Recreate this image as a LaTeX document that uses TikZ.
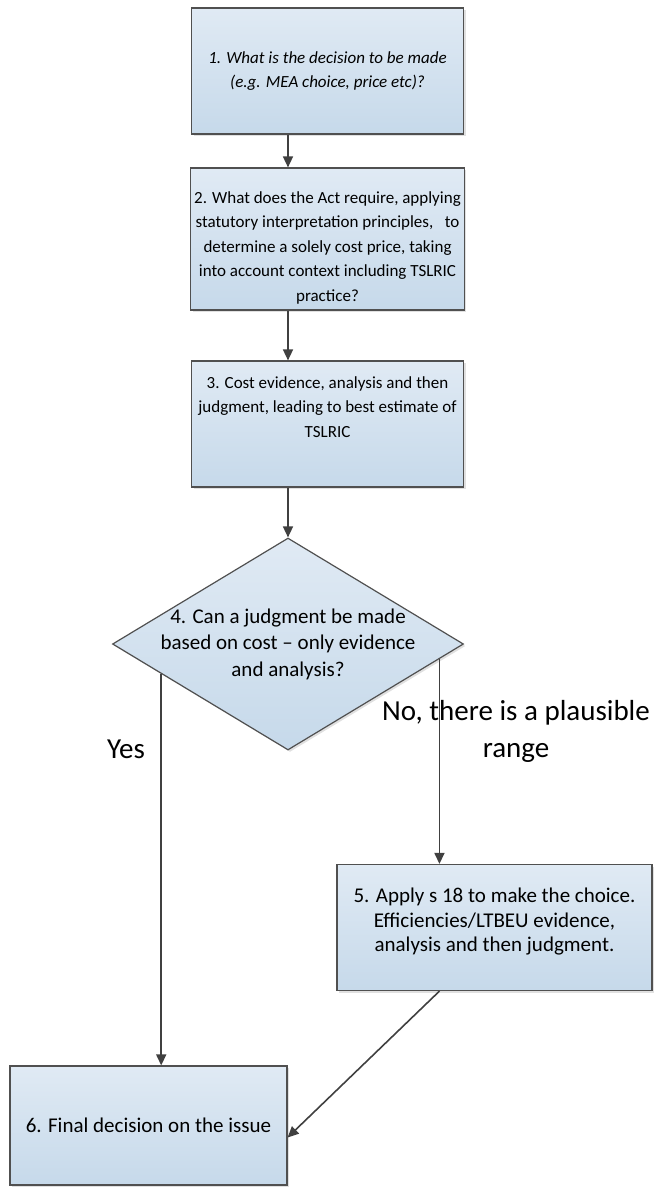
\documentclass[tikz,border=0pt]{standalone}
\usepackage{fontspec}
\setmainfont{Carlito}
\usetikzlibrary{arrows.meta,positioning,shapes.geometric,calc,shadows}
\definecolor{boxtop}{RGB}{224,234,244}
\definecolor{boxbot}{RGB}{198,217,234}
\definecolor{edgegray}{RGB}{80,80,80}
\definecolor{arrowgray}{RGB}{64,64,64}
\tikzset{
  stepbox/.style={rectangle,draw=edgegray,line width=1.2pt,top color=boxtop,bottom color=boxbot,minimum width=272pt,minimum height=126pt,align=center,font=\fontsize{17}{24.5}\selectfont,drop shadow={shadow xshift=2pt,shadow yshift=-2pt,fill=black!40,opacity=0.3}},
  largetext/.style={font=\fontsize{21}{24.5}\selectfont},
  decision/.style={diamond,draw=edgegray,line width=1.2pt,top color=boxtop,bottom color=boxbot,minimum width=351pt,minimum height=212pt,inner sep=-30pt,aspect=1.65,align=center,font=\fontsize{21}{26.5}\selectfont,drop shadow={shadow xshift=2pt,shadow yshift=-2pt,fill=black!40,opacity=0.3}},
  flow/.style={->,draw=arrowgray,line width=1.6pt},
  answer/.style={align=center,font=\fontsize{29}{37}\selectfont}
}

\begin{document}
\begin{tikzpicture}[x=1pt,y=-1pt,>={Triangle[length=11pt,width=10pt]}]
  \useasboundingbox (0,0) rectangle (656,1187);
  \node[stepbox,font=\fontsize{17}{24.5}\selectfont\itshape] (b1) at (327.5,71) {1. What is the decision to be made\\(e.g. MEA choice, price etc)?};
  \node[stepbox,minimum height=142pt,text height=127pt] (b2) at (327.5,239) {2. What does the Act require, applying\\statutory interpretation principles,\ \ \ to\\determine a solely cost price, taking\\into account context including TSLRIC\\practice?};
  \node[stepbox,text depth=34pt] (b3) at (327.5,424) {3. Cost evidence, analysis and then\\judgment, leading to best estimate of\\TSLRIC};
  \node[decision] (q4) at (288,644) {4. Can a judgment be made\\based on cost – only evidence\\and analysis?};
  \node[stepbox,largetext,minimum width=315pt,text depth=15pt] (b5) at (494.5,927.5) {5. Apply s 18 to make the choice.\\Efficiencies/LTBEU evidence,\\analysis and then judgment.};
  \node[stepbox,largetext,minimum width=277pt,minimum height=119pt] (b6) at (148.5,1125.5) {6. Final decision on the issue};
  \node[answer] (yes) at (126,749) {Yes};
  \node[answer] (no) at (516,731) {No, there is a plausible\\range};
  \coordinate (yesfrom) at ($(q4.west)!0.28!(q4.south)$);
  \coordinate (nofrom) at ($(q4.east)!0.14!(q4.south)$);
  \draw[flow] (b1.south -| q4.north) -- (b2.north -| q4.north);
  \draw[flow] (b2.south -| q4.north) -- (b3.north -| q4.north);
  \draw[flow] (b3.south -| q4.north) -- (q4.north);
  \draw[flow] (yesfrom) -- (yesfrom |- b6.north);
  \draw[flow] (nofrom) -- (nofrom |- b5.north);
  \draw[flow] (nofrom |- b5.south) -- ([yshift=-12pt]b6.east);
\end{tikzpicture}
\end{document}
